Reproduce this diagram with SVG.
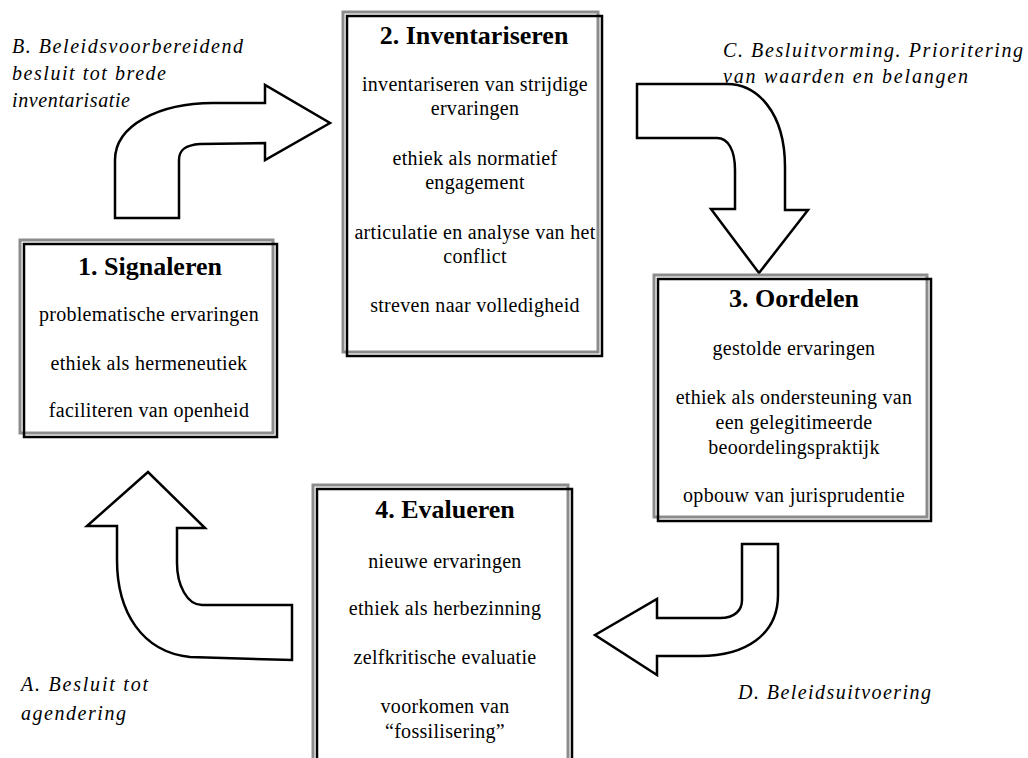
<svg xmlns="http://www.w3.org/2000/svg" width="1028" height="758" viewBox="0 0 1028 758">
<style>
text{font-family:"Liberation Serif","Times New Roman",serif;fill:#000}
.t{font-size:26px;font-weight:bold;text-anchor:middle}
.b{font-size:20px;text-anchor:middle;letter-spacing:0.3px}
.l{font-size:20px;font-style:italic}
.g{fill:#fff;stroke:#8c8c8c;stroke-width:3}
.k{fill:none;stroke:#000;stroke-width:2.5}
.a{fill:#fff;stroke:#000;stroke-width:2.5;stroke-linejoin:miter}
</style>
<rect width="1028" height="758" fill="#fff"/>
<g id="connectors">
<path class="a" d="M115,218 L115,160 C115,125 160,103 213,103 L265,103 L265,85 L330,123 L265,160 L265,143 L200,144 C185,145 179,150 179,160 L179,218 Z"/>
<path class="a" d="M637,84 L727,84 C757,84 785,112 785,167 L785,210 L808,210 L759,273 L711,209 L735,209 L735,170 C735,150 728,138 717,138 L637,138 Z"/>
<path class="a" d="M742,544 L778,544 L778,595 C778,635 745,656 700,656 L657,656 L657,675 L595,635 L657,599 L657,618 L720,618 C735,618 742,610 742,600 Z"/>
<path class="a" d="M148,472 L87,526 L117,526 L117,560 C117,612 142,652 190,657 L292,660 L292,605 L202,605 C187,605 177,585 177,563 L177,528 L205,528 Z"/>
</g>
<g id="labels">
<text class="l" x="12" y="53" textLength="231" lengthAdjust="spacing">B. Beleidsvoorbereidend</text>
<text class="l" x="12" y="80" textLength="154" lengthAdjust="spacing">besluit tot brede</text>
<text class="l" x="12" y="107" textLength="118" lengthAdjust="spacing">inventarisatie</text>
<text class="l" x="723" y="57" textLength="300" lengthAdjust="spacing">C. Besluitvorming. Prioritering</text>
<text class="l" x="723" y="83" textLength="245" lengthAdjust="spacing">van waarden en belangen</text>
<text class="l" x="21" y="691" textLength="127" lengthAdjust="spacing">A. Besluit tot</text>
<text class="l" x="21" y="720" textLength="105" lengthAdjust="spacing">agendering</text>
<text class="l" x="738" y="699" textLength="193" lengthAdjust="spacing">D. Beleidsuitvoering</text>
</g>
<g id="node1">
<rect class="g" x="20" y="240" width="253" height="193"/>
<rect class="k" x="24" y="244" width="253" height="193"/>
<text class="t" x="150" y="275">1. Signaleren</text>
<text class="b" x="149" y="321">problematische ervaringen</text>
<text class="b" x="149" y="370">ethiek als hermeneutiek</text>
<text class="b" x="149" y="417">faciliteren van openheid</text>
</g>
<g id="node2">
<rect class="g" x="343" y="12" width="255" height="340"/>
<rect class="k" x="347" y="16" width="255" height="340"/>
<text class="t" x="474" y="44">2. Inventariseren</text>
<text class="b" x="475" y="91">inventariseren van strijdige</text>
<text class="b" x="475" y="115">ervaringen</text>
<text class="b" x="475" y="165">ethiek als normatief</text>
<text class="b" x="475" y="189">engagement</text>
<text class="b" x="475" y="239">articulatie en analyse van het</text>
<text class="b" x="475" y="263">conflict</text>
<text class="b" x="475" y="312">streven naar volledigheid</text>
</g>
<g id="node3">
<rect class="g" x="654" y="275" width="273" height="242"/>
<rect class="k" x="658" y="279" width="273" height="242"/>
<text class="t" x="794" y="307">3. Oordelen</text>
<text class="b" x="794" y="355">gestolde ervaringen</text>
<text class="b" x="794" y="404">ethiek als ondersteuning van</text>
<text class="b" x="794" y="429">een gelegitimeerde</text>
<text class="b" x="794" y="454">beoordelingspraktijk</text>
<text class="b" x="794" y="502">opbouw van jurisprudentie</text>
</g>
<g id="node4">
<rect class="g" x="313" y="485" width="255" height="290"/>
<rect class="k" x="317" y="489" width="255" height="290"/>
<text class="t" x="445" y="518">4. Evalueren</text>
<text class="b" x="445" y="568">nieuwe ervaringen</text>
<text class="b" x="445" y="615">ethiek als herbezinning</text>
<text class="b" x="445" y="664">zelfkritische evaluatie</text>
<text class="b" x="445" y="713">voorkomen van</text>
<text class="b" x="445" y="738">“fossilisering”</text>
</g>
</svg>
